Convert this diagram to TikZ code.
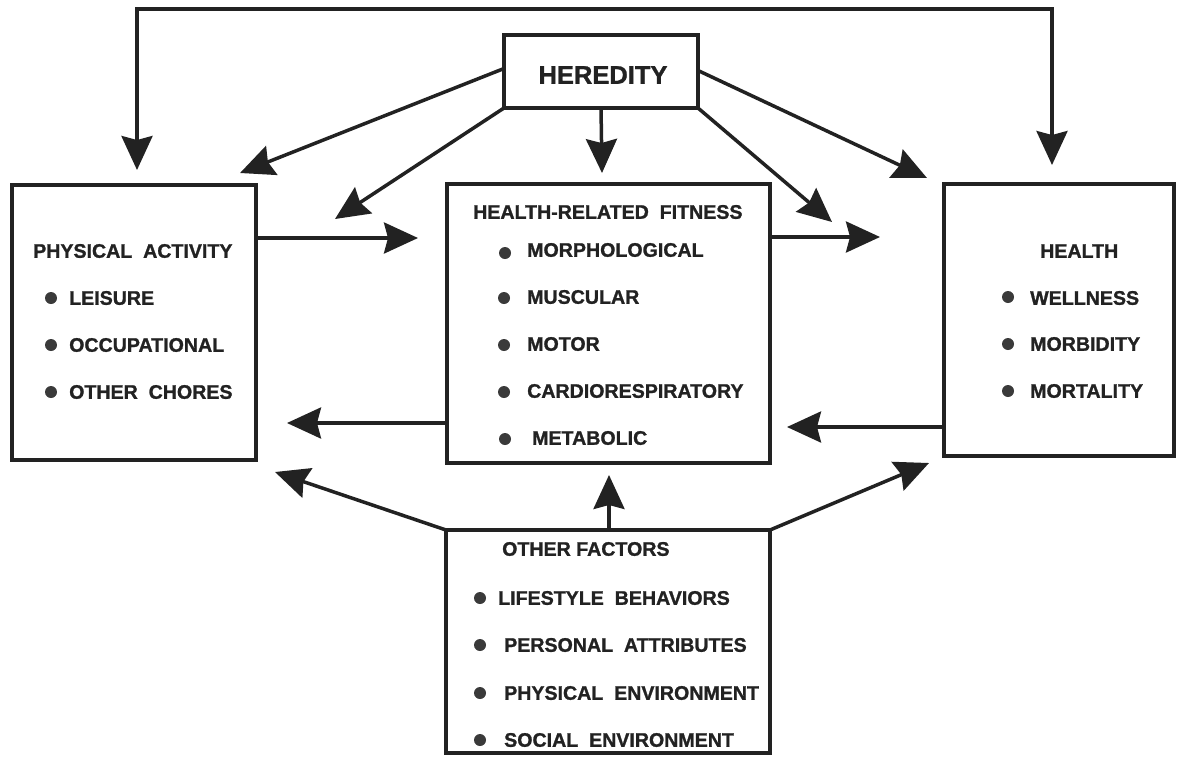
\documentclass[tikz,border=0pt]{standalone}
\usepackage{fontspec}
\setmainfont{Liberation Sans}
\newfontfamily\heavy{Liberation Sans Bold}[FakeBold=1.2]
\usetikzlibrary{arrows.meta}
\definecolor{ink}{HTML}{222222}
\definecolor{dotc}{HTML}{3a3a3a}
\tikzset{
  boxnode/.style={draw=ink, line width=4.5pt, rectangle, inner sep=0pt, outer sep=0pt},
  lbl/.style={anchor=west, inner sep=0pt, text=ink, font=\heavy\fontsize{19.6}{22}\selectfont},
  bigl/.style={anchor=center, inner sep=0pt, text=ink, font=\heavy\fontsize{25.5}{28}\selectfont},
  dot/.style={circle, fill=dotc, inner sep=0pt, minimum size=12pt},
  arr/.style={draw=ink, line width=3.5pt, -{Stealth[length=34pt, width=31pt, inset=4pt]}},
  arrboth/.style={draw=ink, line width=3.5pt, {Stealth[length=34pt, width=31pt, inset=4pt]}-{Stealth[length=34pt, width=31pt, inset=4pt]}}
}
\begin{document}
\begin{tikzpicture}[x=1pt, y=-1pt]
\useasboundingbox (0,0) rectangle (1177,756);

% boxes
\node[boxnode, minimum width=194pt, minimum height=73pt] (her) at (601,71.5) {};
\node[boxnode, minimum width=244pt, minimum height=275pt] (pa) at (134,322.5) {};
\node[boxnode, minimum width=323pt, minimum height=279pt] (fit) at (608.5,323.5) {};
\node[boxnode, minimum width=230pt, minimum height=272pt] (hea) at (1059,320) {};
\node[boxnode, minimum width=324pt, minimum height=223pt] (oth) at (608,641.5) {};

% texts
\node[bigl] (herT) at (603,75) {HEREDITY};

\node[lbl] (paT) at (33,251) {PHYSICAL\ \ ACTIVITY};
\node[dot] (paB1) at (51,298) {};
\node[lbl] (paI1) at (69,298) {LEISURE};
\node[dot] (paB2) at (51,345) {};
\node[lbl] (paI2) at (69,345) {OCCUPATIONAL};
\node[dot] (paB3) at (51,392) {};
\node[lbl] (paI3) at (69,392) {OTHER\ \ CHORES};

\node[lbl] (fitT) at (473,212) {HEALTH-RELATED\ \ FITNESS};
\node[dot] (fitB1) at (505,253) {};
\node[lbl] (fitI1) at (527,250) {MORPHOLOGICAL};
\node[dot] (fitB2) at (504,298) {};
\node[lbl] (fitI2) at (527,297) {MUSCULAR};
\node[dot] (fitB3) at (504,345) {};
\node[lbl] (fitI3) at (527,344) {MOTOR};
\node[dot] (fitB4) at (504,392) {};
\node[lbl] (fitI4) at (527,391) {CARDIORESPIRATORY};
\node[dot] (fitB5) at (505,439) {};
\node[lbl] (fitI5) at (532,438) {METABOLIC};

\node[lbl] (heaT) at (1040,251) {HEALTH};
\node[dot] (heaB1) at (1008,297) {};
\node[lbl] (heaI1) at (1030,298) {WELLNESS};
\node[dot] (heaB2) at (1008,344) {};
\node[lbl] (heaI2) at (1030,344) {MORBIDITY};
\node[dot] (heaB3) at (1008,391) {};
\node[lbl] (heaI3) at (1030,391) {MORTALITY};

\node[lbl] (othT) at (502,549) {OTHER FACTORS};
\node[dot] (othB1) at (480,598) {};
\node[lbl] (othI1) at (498,598) {LIFESTYLE\ \ BEHAVIORS};
\node[dot] (othB2) at (480,645) {};
\node[lbl] (othI2) at (504,645) {PERSONAL\ \ ATTRIBUTES};
\node[dot] (othB3) at (480,693) {};
\node[lbl] (othI3) at (504,693) {PHYSICAL\ \ ENVIRONMENT};
\node[dot] (othB4) at (480,740) {};
\node[lbl] (othI4) at (504,740) {SOCIAL\ \ ENVIRONMENT};

% arrow end coordinates
\coordinate (loopL) at (137,9);
\coordinate (loopR) at (1052,9);
\coordinate (tLoopPA) at (137,170);
\coordinate (tLoopH) at (1052,165);
\coordinate (tHerPA) at (240,173);
\coordinate (tHerPA2) at (335,219);
\coordinate (tHerFit) at (602,173);
\coordinate (tHerH2) at (832,222);
\coordinate (tHerH) at (927,178);
\coordinate (tPAFit) at (418,238);
\coordinate (tFitH) at (880,237);
\coordinate (tFitPA) at (287,423);
\coordinate (tHFit) at (787,427);
\coordinate (tOthFit) at (609,475);
\coordinate (tOthPA) at (275,472);
\coordinate (tOthH) at (929,463);

% connectors
\draw[arrboth, line join=miter] (tLoopPA) -- (loopL) -- (loopR) -- (tLoopH);
\draw[arr] ([yshift=3pt]her.west) -- (tHerPA);
\draw[arr] (her.south west) -- (tHerPA2);
\draw[arr] (her.south) -- (tHerFit);
\draw[arr] (her.south east) -- (tHerH2);
\draw[arr] ([yshift=1pt]her.east) -- (tHerH);
\draw[arr] (tPAFit -| pa.east) -- (tPAFit);
\draw[arr] (tFitH -| fit.east) -- (tFitH);
\draw[arr] (tFitPA -| fit.west) -- (tFitPA);
\draw[arr] (tHFit -| hea.west) -- (tHFit);
\draw[arr] (tOthFit |- oth.north) -- (tOthFit);
\draw[arr] (oth.north west) -- (tOthPA);
\draw[arr] (oth.north east) -- (tOthH);
\end{tikzpicture}
\end{document}
